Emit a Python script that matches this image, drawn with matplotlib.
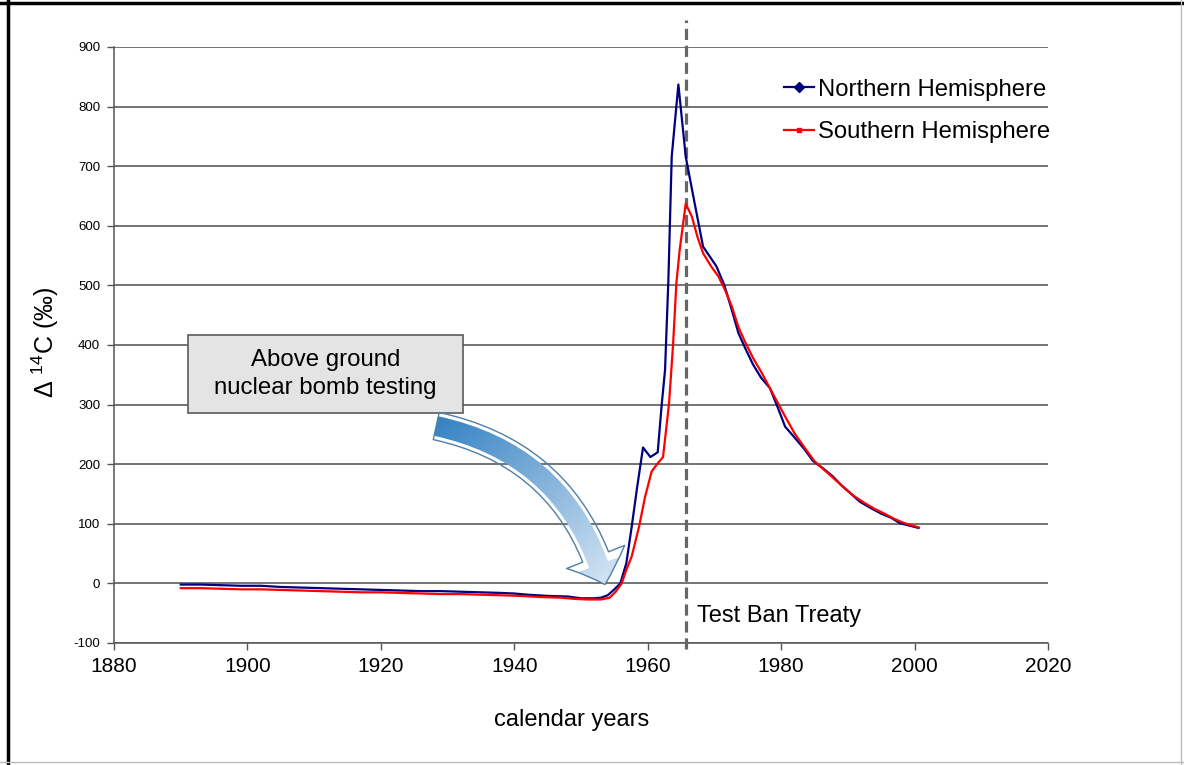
import numpy as np
import matplotlib
matplotlib.use('Agg')
import matplotlib.pyplot as plt
from matplotlib.lines import Line2D
from matplotlib.patches import FancyArrowPatch, Rectangle
from matplotlib.colors import LinearSegmentedColormap

plt.rcParams['font.family'] = ['Liberation Sans', 'DejaVu Sans']
plt.rcParams['mathtext.fontset'] = 'custom'
plt.rcParams['mathtext.rm'] = 'Liberation Sans'
plt.rcParams['mathtext.default'] = 'regular'
plt.rcParams['axes.unicode_minus'] = False

# data
nh_years = [1890, 1893, 1896, 1899, 1902, 1905, 1908, 1911, 1914, 1917, 1920, 1923,
            1926, 1929, 1932, 1935, 1938, 1940, 1942, 1945, 1948, 1950, 1952, 1953,
            1954, 1955, 1955.9, 1956.8, 1957.6, 1958.4, 1959.3, 1960.4, 1961.5, 1962.1,
            1962.6, 1963.1, 1963.6, 1964.6, 1965.7, 1967.0, 1968.3, 1970.3, 1971.5,
            1972.6, 1973.6, 1974.6, 1975.8, 1977.0, 1978.3, 1979.5, 1980.6, 1982.0,
            1983.5, 1984.8, 1986.3, 1987.8, 1989.0, 1990.5, 1991.8, 1993.5, 1995.0,
            1996.5, 1997.8, 1999.2, 2000.6]
nh_d14c = [-2, -2, -3, -4, -4, -6, -7, -8, -9, -10, -11, -12,
           -13, -13, -14, -15, -16, -17, -19, -21, -22, -25, -25, -24,
           -20, -10, 0, 34, 95, 160, 228, 212, 220, 300,
           358, 509, 716, 837, 716, 640, 565, 532, 500,
           459, 420, 395, 367, 345, 328, 295, 263, 245,
           225, 205, 193, 179, 165, 150, 137, 126, 117,
           110, 101, 97, 93]

sh_years = [1890, 1893, 1896, 1899, 1902, 1905, 1908, 1911, 1914, 1917, 1920, 1923,
            1926, 1929, 1932, 1935, 1938, 1941, 1944, 1947, 1949, 1951, 1953, 1954.3,
            1955.2, 1956.1, 1956.8, 1957.6, 1958.7, 1959.6, 1960.6, 1961.4, 1962.3,
            1963.2, 1963.8, 1964.3, 1964.8, 1965.7, 1966.6, 1967.5, 1968.3, 1969.5,
            1970.6, 1971.6, 1972.6, 1973.6, 1974.6, 1975.8, 1977.0, 1978.3, 1979.5,
            1980.6, 1982.0, 1983.5, 1985.0, 1986.5, 1988.0, 1989.5, 1991.0, 1992.5,
            1994.0, 1995.5, 1997.0, 1998.5, 2000.6]
sh_d14c = [-8, -8, -9, -10, -10, -11, -12, -13, -14, -15, -15, -16,
           -17, -18, -18, -19, -20, -21, -23, -24, -26, -27, -27, -24,
           -14, 0, 23, 45, 95, 145, 188, 200, 212,
           302, 400, 504, 560, 637, 616, 580, 554, 532,
           515, 492, 465, 430, 405, 378, 355, 328, 303,
           280, 252, 228, 205, 190, 175, 160, 146, 135,
           125, 117, 108, 101, 94]

test_ban_year = 1965.8
x_ticks = list(range(1880, 2021, 20))
y_ticks = list(range(-100, 901, 100))

fig = plt.figure(figsize=(11.84, 7.65), dpi=100)
ax = fig.add_axes([0.0963, 0.1595, 0.7888, 0.7791])

ax.plot(nh_years, nh_d14c, color='#000080', lw=1.6, zorder=6)
ax.plot(sh_years, sh_d14c, color='#ff0000', lw=1.6, zorder=6)

ax.plot([test_ban_year, test_ban_year], [-110, 945], color='#666666', lw=2.3,
        dashes=(3.5, 1.8), clip_on=False, zorder=5)
ax.text(1967.4, -55, 'Test Ban Treaty', fontsize=17, ha='left', va='center')

ax.set_xlim(1880, 2020)
ax.set_ylim(-100, 900)
ax.set_xticks(x_ticks)
ax.set_yticks(y_ticks)
ax.tick_params(axis='x', labelsize=15, length=5, width=1, color='#555555', pad=5)
ax.tick_params(axis='y', labelsize=9.5, length=5, width=1, color='#555555', pad=5)
ax.grid(axis='y', color='#4d4d4d', lw=1.1)
ax.set_axisbelow(True)
for s in ['top', 'right']:
    ax.spines[s].set_visible(False)
for s in ['left', 'bottom']:
    ax.spines[s].set_color('#555555')
    ax.spines[s].set_linewidth(1.1)

ax.set_xlabel('calendar years', fontsize=17)
ax.xaxis.set_label_coords(0.49, -0.111)
ax.set_ylabel(r'Δ $^{14}$C (‰)', fontsize=18)
ax.yaxis.set_label_coords(-0.057, 0.505)

# callout box
ax.add_patch(Rectangle((1891.1, 286), 41.2, 131, fc='#e4e4e4', ec='#5a5a5a', lw=1.2, zorder=4))
ax.text(1911.7, 351.5, 'Above ground\nnuclear bomb testing', fontsize=17.3, ha='center',
        va='center', linespacing=1.32, zorder=5)

# curved arrow with a gradient fill
arrow = FancyArrowPatch((1928.3, 264), (1953.6, -2),
                        arrowstyle='simple,head_width=45,head_length=21,tail_width=20',
                        connectionstyle='arc3,rad=-0.3', shrinkA=0, shrinkB=0,
                        fc='none', ec='#4f7fa6', lw=1, zorder=4)
ax.add_patch(arrow)
G = np.add.outer(np.linspace(0, 1, 120), np.linspace(0, 1, 120))
cmap = LinearSegmentedColormap.from_list('blu', ['#2a7cc0', '#e6eff9'])
im = ax.imshow(G, extent=[1926, 1959, -15, 290], cmap=cmap, aspect='auto',
               origin='upper', interpolation='bilinear', zorder=3.5)
im.set_clip_path(arrow)
ax.set_xlim(1880, 2020)
ax.set_ylim(-100, 900)

handles = [Line2D([], [], color='#000080', lw=1.6, marker='D', markersize=5),
           Line2D([], [], color='#ff0000', lw=1.6, marker='s', markersize=3.5)]
ax.legend(handles, ['Northern Hemisphere', 'Southern Hemisphere'], loc='upper left',
          bbox_to_anchor=(0.717, 0.947), frameon=False, fontsize=17.2, handlelength=1.25,
          handletextpad=0.2, labelspacing=0.87, borderpad=0, borderaxespad=0)

# frame around the whole picture
fig.add_artist(Line2D([8 / 1184, 8 / 1184], [0, 1], color='black', lw=2.5))
fig.add_artist(Line2D([0, 1], [1 - 3 / 765, 1 - 3 / 765], color='black', lw=2.5))
fig.add_artist(Line2D([1181 / 1184, 1181 / 1184], [0, 1], color='#bbbbbb', lw=1))
fig.add_artist(Line2D([0, 1], [3 / 765, 3 / 765], color='#bbbbbb', lw=1))

fig.savefig('out.png', dpi=100, facecolor='white')
